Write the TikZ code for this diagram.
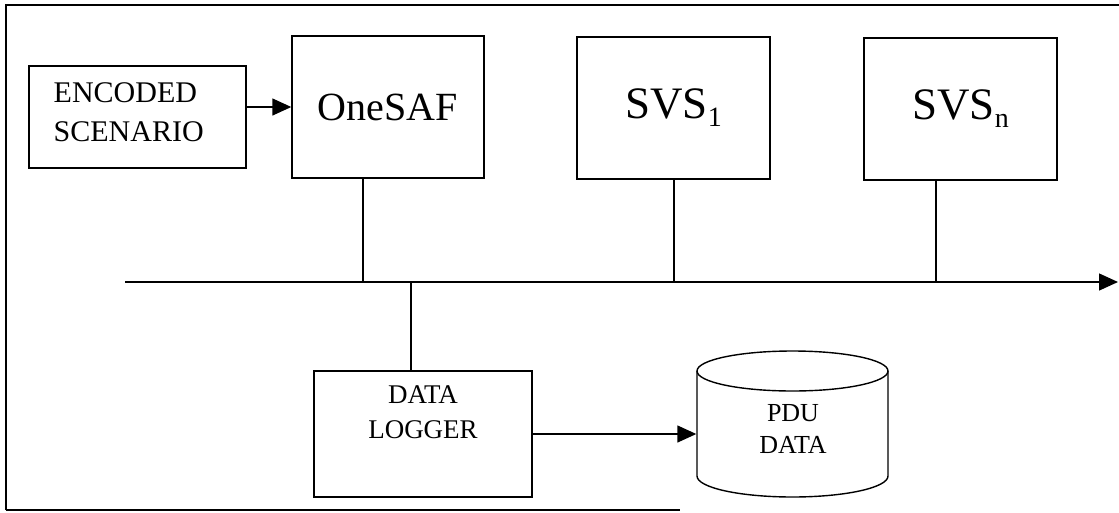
\documentclass[tikz,border=0pt]{standalone}
\usepackage{fontspec}
\setmainfont{Liberation Serif}
\usetikzlibrary{arrows.meta}
\begin{document}
\begin{tikzpicture}[x=1pt,y=1pt,
  line width=1.4pt,
  box/.style={draw, rectangle, inner sep=0pt, line width=1.4pt},
  lbl/.style={inner sep=0pt},
  arr/.style={-{Triangle[length=19pt,width=17pt]}},
  frame/.style={line width=1.1pt}]
\useasboundingbox (0,0) rectangle (1119,-512);
% outer frame (as scanned)
\draw[frame] (6,-510) -- (6,-5) -- (1119,-5);
\draw[frame] (6,-510) -- (680,-510);
% boxes
\node[box, minimum width=217pt, minimum height=102pt] (enc) at (137.5,-117) {};
\node[lbl, anchor=north west, align=left, font=\fontsize{30}{39}\selectfont] (enctext) at (53,-82) {ENCODED\\SCENARIO};
\node[box, minimum width=192pt, minimum height=142pt, font=\fontsize{40}{48}\selectfont] (onesaf) at (388,-107) {OneSAF};
\node[box, minimum width=193pt, minimum height=142pt, font=\fontsize{45}{54}\selectfont] (svs1) at (673.5,-108) {SVS\raisebox{-8pt}{\fontsize{28}{30}\selectfont 1}};
\node[box, minimum width=193pt, minimum height=142pt, font=\fontsize{45}{54}\selectfont] (svsn) at (960.5,-109) {SVS\raisebox{-8pt}{\fontsize{28}{30}\selectfont n}};
\node[box, minimum width=218pt, minimum height=126pt] (logger) at (423,-434) {};
\node[lbl, anchor=north, align=center, font=\fontsize{27}{35}\selectfont] (loggertext) at (423,-385) {DATA\\LOGGER};
% cylinder
\node[inner sep=0pt, minimum width=191pt, minimum height=147pt] (pdu) at (792.5,-423.5) {};
\draw (pdu.center |- 0,-371) ellipse [x radius=95.5pt, y radius=20pt];
\draw (697,-371) -- (697,-476) arc [start angle=180, end angle=360, x radius=95.5pt, y radius=21pt] -- (888,-371);
\node[lbl, anchor=north, align=center, font=\fontsize{26}{32}\selectfont] (pdutext) at (793,-404) {PDU\\DATA};
% bus
\coordinate (busL) at (125,-282);
\coordinate (busR) at (1118,-282);
\coordinate (b1) at (363,-282);
\coordinate (b2) at (674,-282);
\coordinate (b3) at (936,-282);
\coordinate (b4) at (411,-282);
\draw[arr] (busL) -- (busR);
\draw (b1 |- onesaf.south) -- (b1);
\draw (b2 |- svs1.south) -- (b2);
\draw (b3 |- svsn.south) -- (b3);
\draw (b4) -- (b4 |- logger.north);
% arrows
\draw[arr] (enc.east |- onesaf.west) -- (onesaf.west);
\draw[arr] (logger.east) -- (logger.east -| pdu.west);
\end{tikzpicture}
\end{document}
